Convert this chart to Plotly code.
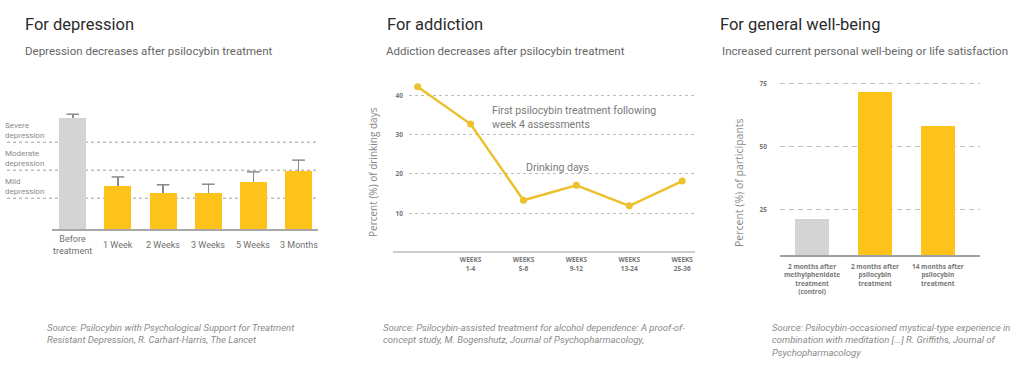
import plotly.graph_objects as go

W, H = 1024, 371

# ---------------- data ----------------
dep_categories = ["Before<br>treatment", "1 Week", "2 Weeks", "3 Weeks", "5 Weeks", "3 Months"]
dep_values = [19.8, 7.7, 6.4, 6.4, 8.4, 10.4]
dep_errors = [0.7, 1.6, 1.5, 1.6, 1.8, 1.9]
dep_thresholds = [5.5, 10.5, 15.5]
dep_threshold_labels = ["Mild<br>depression", "Moderate<br>depression", "Severe<br>depression"]

add_categories = ["", "WEEKS<br>1-4", "WEEKS<br>5-6", "WEEKS<br>9-12", "WEEKS<br>13-24", "WEEKS<br>25-36"]
add_values = [42.2, 32.7, 13.3, 17.1, 11.9, 18.2]
add_ticks = [10, 20, 30, 40]

wb_categories = ["2 months after<br>methylphenidate<br>treatment<br>(control)",
                 "2 months after<br>psilocybin<br>treatment",
                 "14 months after<br>psilocybin<br>treatment"]
wb_values = [21.3, 71.7, 57.9]
wb_ticks = [25, 50, 75]

titles = ["For depression", "For addiction", "For general well-being"]
subtitles = ["Depression decreases after psilocybin treatment",
             "Addiction decreases after psilocybin treatment",
             "Increased current personal well-being or life satisfaction"]
sources = ["Source: Psilocybin with Psychological Support for Treatment<br>Resistant Depression, R. Carhart-Harris, The Lancet",
           "Source: Psilocybin-assisted treatment for alcohol dependence: A proof-of-<br>concept study, M. Bogenshutz, Journal of Psychopharmacology,",
           "Source: Psilocybin-occasioned mystical-type experience in<br>combination with meditation [...] R. Griffiths, Journal of<br>Psychopharmacology"]

# ---------------- styles ----------------
YELLOW = "#FDC31B"
LINE_YELLOW = "#EDC12E"
GREY_BAR = "#D4D4D4"
GRID = "#BDBDBD"


def fx(px):
    return px / W


def fy(py):
    return 1 - py / H


fig = go.Figure()

# ---- Panel 1: depression bars ----
idx1 = list(range(len(dep_categories)))
fig.add_trace(go.Bar(
    x=idx1, y=dep_values, width=0.6,
    marker=dict(color=[GREY_BAR] + [YELLOW] * (len(dep_values) - 1), line=dict(width=0)),
    error_y=dict(type="data", symmetric=False, array=dep_errors,
                 arrayminus=[0] * len(dep_errors), color="#8a8a8a", thickness=1.5, width=0),
    xaxis="x", yaxis="y", showlegend=False, hoverinfo="skip"))
fig.add_trace(go.Scatter(
    x=idx1, y=[v + e for v, e in zip(dep_values, dep_errors)], mode="markers",
    marker=dict(symbol="line-ew", size=9, line=dict(color="#8a8a8a", width=1.5)),
    xaxis="x", yaxis="y", showlegend=False, hoverinfo="skip"))

# ---- Panel 2: addiction line ----
idx2 = list(range(len(add_categories)))
fig.add_trace(go.Scatter(
    x=idx2, y=add_values, mode="lines+markers",
    line=dict(color=LINE_YELLOW, width=2.5),
    marker=dict(color=LINE_YELLOW, size=7),
    xaxis="x2", yaxis="y2", showlegend=False, hoverinfo="skip"))

# ---- Panel 3: well-being bars ----
idx3 = list(range(len(wb_categories)))
fig.add_trace(go.Bar(
    x=idx3, y=wb_values, width=0.54,
    marker=dict(color=[GREY_BAR] + [YELLOW] * (len(wb_values) - 1), line=dict(width=0)),
    xaxis="x3", yaxis="y3", showlegend=False, hoverinfo="skip"))

small_bold = dict(family="Open Sans", size=6.5, color="#777777", weight="bold")

fig.update_layout(
    width=W, height=H,
    margin=dict(l=0, r=0, t=0, b=0),
    paper_bgcolor="white", plot_bgcolor="white",
    bargap=0,
    xaxis=dict(domain=[fx(52), fx(318)], range=[-0.46, 5.43], showticklabels=False,
               showgrid=False, zeroline=False, showline=True, linecolor="#A8A8A8",
               linewidth=1.5, ticks="", fixedrange=True),
    yaxis=dict(domain=[fy(229), fy(100)], range=[0, 23.04], visible=False,
               showgrid=False, zeroline=False, anchor="x"),
    xaxis2=dict(domain=[fx(409), fx(695)], range=[-0.164, 5.242],
                tickmode="array", tickvals=idx2[1:], ticktext=add_categories[1:],
                tickfont=small_bold, showgrid=False, zeroline=False, showline=False,
                ticks="", anchor="y2", ticklabelstandoff=2),
    yaxis2=dict(domain=[fy(252.6), fy(80)], range=[0, 43.9], tickmode="array",
                tickvals=add_ticks, tickfont=small_bold, showgrid=True, gridcolor=GRID,
                griddash="dot", gridwidth=1, zeroline=False, showline=False, ticks="",
                anchor="x2", ticklabelstandoff=5),
    xaxis3=dict(domain=[fx(780), fx(980)], range=[-0.51, 2.67], tickmode="array",
                tickvals=idx3, ticktext=wb_categories, tickfont=small_bold,
                showgrid=False, zeroline=False, showline=True, linecolor="#A0A0A0",
                linewidth=2, ticks="", anchor="y3", ticklabelstandoff=4),
    yaxis3=dict(domain=[fy(255), fy(75)], range=[6.85, 78.3], tickmode="array",
                tickvals=wb_ticks, tickfont=small_bold, showgrid=True, gridcolor=GRID,
                griddash="5px,4px", gridwidth=1, zeroline=False, showline=False, ticks="",
                anchor="x3", ticklabelstandoff=12),
)

shapes = []
annotations = []

# depression thresholds (dotted lines + labels)
for t, lab in zip(dep_thresholds, dep_threshold_labels):
    shapes.append(dict(type="line", xref="paper", yref="y", x0=fx(7), x1=fx(318), y0=t, y1=t,
                       line=dict(color=GRID, width=1.5, dash="dot"), layer="below"))
    annotations.append(dict(xref="paper", yref="y", x=fx(3), y=t, xanchor="left", yanchor="bottom",
                            text=lab, showarrow=False, align="left", yshift=0,
                            font=dict(family="Roboto", size=8, color="#8a8a8a")))

# depression category labels
for i, lab in zip(idx1, dep_categories):
    annotations.append(dict(xref="x", yref="paper", x=i, y=fy(244.5), xanchor="center",
                            yanchor="middle", text=lab, showarrow=False, align="center",
                            font=dict(family="Roboto", size=9, color="#707070")))

# addiction baseline
shapes.append(dict(type="line", xref="paper", yref="y2", x0=fx(393), x1=fx(695), y0=0, y1=0,
                   line=dict(color="#9a9a9a", width=2)))

# addiction annotations
annotations.append(dict(xref="paper", yref="paper", x=fx(490), y=fy(117), xanchor="left",
                        yanchor="middle", text="First psilocybin treatment following<br>week 4 assessments",
                        showarrow=False, align="left",
                        font=dict(family="Roboto", size=10.5, color="#7a7a7a")))
annotations.append(dict(xref="paper", yref="paper", x=fx(524), y=fy(167.5), xanchor="left",
                        yanchor="middle", text="Drinking days", showarrow=False, align="left",
                        font=dict(family="Roboto", size=10.5, color="#7a7a7a")))

# axis titles
annotations.append(dict(xref="paper", yref="paper", x=fx(373), y=fy(172), xanchor="center",
                        yanchor="middle", text="Percent (%) of drinking days", textangle=-90,
                        showarrow=False, font=dict(family="Open Sans", size=10, color="#888888")))
annotations.append(dict(xref="paper", yref="paper", x=fx(739), y=fy(183), xanchor="center",
                        yanchor="middle", text="Percent (%) of participants", textangle=-90,
                        showarrow=False, font=dict(family="Open Sans", size=10.5, color="#888888")))

# titles, subtitles, sources
title_x = [23, 385, 718]
sub_x = [23, 384, 720]
src_x = [45, 381, 770]
for tx, sx, cx, t, s, src in zip(title_x, sub_x, src_x, titles, subtitles, sources):
    annotations.append(dict(xref="paper", yref="paper", x=fx(tx), y=fy(25), xanchor="left",
                            yanchor="middle", text=t, showarrow=False,
                            font=dict(family="Roboto", size=16.5, color="#2b2b2b")))
    annotations.append(dict(xref="paper", yref="paper", x=fx(sx), y=fy(51), xanchor="left",
                            yanchor="middle", text=s, showarrow=False,
                            font=dict(family="Roboto", size=11.5, color="#666666")))
    annotations.append(dict(xref="paper", yref="paper", x=fx(cx), y=fy(320), xanchor="left",
                            yanchor="top", text="<i>" + src + "</i>", showarrow=False, align="left",
                            font=dict(family="Roboto", size=9.5, color="#8a8a8a")))

fig.update_layout(shapes=shapes, annotations=annotations)
fig.write_html(
    "out.html",
    config={"displayModeBar": False},
    post_script="document.body.style.margin='0';document.body.style.overflow='hidden';",
)
